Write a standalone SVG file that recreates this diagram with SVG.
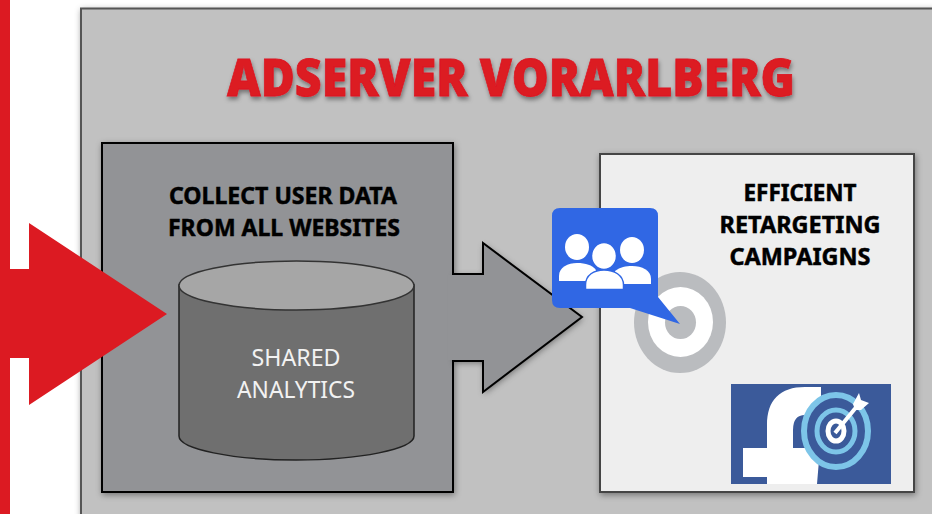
<svg xmlns="http://www.w3.org/2000/svg" width="932" height="514" viewBox="0 0 932 514">
<defs>
<filter id="sh" x="-10%" y="-10%" width="120%" height="120%"><feDropShadow dx="1" dy="2" stdDeviation="3" flood-color="#000" flood-opacity=".4"/></filter>
<filter id="ts" x="-5%" y="-20%" width="110%" height="140%"><feDropShadow dx="1" dy="3" stdDeviation="2" flood-color="#000" flood-opacity=".4"/></filter>
</defs>
<style>
.h{font-family:"Noto Sans","Open Sans","Liberation Sans",sans-serif;font-weight:700;fill:#000;stroke:#000;stroke-width:.5px;text-anchor:middle;font-size:24px}
.c{font-family:"Noto Sans","Open Sans","Liberation Sans",sans-serif;fill:#f2f2f2;text-anchor:middle;font-size:24px}
.wh{fill:#fff}
.bl{fill:#fff;stroke:#3067e4;stroke-width:1.500px}
</style>
<rect width="932" height="514" fill="#fff"/>
<rect x="0" y="0" width="10" height="514" fill="#dc1a22"/>
<g id="outer"><rect x="81" y="8.500" width="860" height="520" fill="#c1c1c1" stroke="#555" stroke-width="2" filter="url(#sh)"/>
<text x="511" y="96" text-anchor="middle" font-family="'Noto Sans','Open Sans','Liberation Sans',sans-serif" font-weight="900" font-size="52" fill="#dc1a22" stroke="#dc1a22" stroke-width=".8" filter="url(#ts)" textLength="568" lengthAdjust="spacingAndGlyphs">ADSERVER VORARLBERG</text></g>
<g id="collect">
<rect x="102" y="143" width="351" height="349" fill="#929396" stroke="#000" stroke-width="2" filter="url(#sh)"/>
<text class="h" x="283" y="204" textLength="228" lengthAdjust="spacingAndGlyphs">COLLECT USER DATA</text>
<text class="h" x="284" y="236" textLength="232" lengthAdjust="spacingAndGlyphs">FROM ALL WEBSITES</text>
</g>
<g id="connectors">
<path d="M453 274H483V243L582 317L483 392V361H453Z" fill="#929396" filter="url(#sh)"/>
<rect x="448" y="275" width="8" height="85" fill="#929396"/>
<path d="M453 274H483V243L582 317L483 392V361H453" fill="none" stroke="#000" stroke-width="2"/>
<path d="M0 269H29V223L167 314L29 405V358H0Z" fill="#dc1a22"/>
</g>
<g id="database">
<path d="M179 285V436C179 449 232 460 296 460S414 449 414 436V285Z" fill="#6f6f6f" stroke="#222" stroke-width="1.500"/>
<ellipse cx="296.500" cy="285.500" rx="117.500" ry="24.500" fill="#a6a6a6" stroke="#333" stroke-width="1.500"/>
<text class="c" x="296" y="366" textLength="89" lengthAdjust="spacingAndGlyphs">SHARED</text>
<text class="c" x="296" y="398" textLength="118" lengthAdjust="spacingAndGlyphs">ANALYTICS</text>
</g>
<g id="retargeting">
<rect x="600" y="154" width="314" height="338" fill="#eee" stroke="#444" stroke-width="2" filter="url(#sh)"/>
<text class="h" x="800" y="201" textLength="113" lengthAdjust="spacingAndGlyphs">EFFICIENT</text>
<text class="h" x="800" y="233" textLength="161" lengthAdjust="spacingAndGlyphs">RETARGETING</text>
<text class="h" x="800" y="265" textLength="141" lengthAdjust="spacingAndGlyphs">CAMPAIGNS</text>
</g>
<g id="target-icon">
<ellipse cx="680" cy="322.500" rx="46" ry="50.500" fill="#babcbf"/>
<ellipse cx="680.500" cy="322" rx="32.500" ry="35" fill="#fff"/>
<ellipse cx="680.500" cy="322.500" rx="15.500" ry="16.500" fill="#babcbf"/>
<path d="M560 208H650Q658 208 658 216V297L680 324L630 308H560Q552 308 552 300V216Q552 208 560 208Z" fill="#3067e4"/>
<ellipse cx="577" cy="247" rx="12" ry="13" class="wh"/>
<ellipse cx="632" cy="250" rx="12" ry="13" class="wh"/>
<path d="M559 281V276C559 267 568 263 577 263C586 263 592 265 596 270L596 281Z" class="wh"/>
<path d="M651 284V279C651 270 642 266 632 266C626 266 620 267 615 271L615 284Z" class="wh"/>
<ellipse cx="604" cy="256" rx="12.500" ry="13.500" class="bl"/>
<path d="M585.500 289.500V285C585.500 275 594 270 604 270C614 270 623.500 275 623.500 285V289.500Z" class="bl"/>
</g>
<g id="facebook-icon">
<rect x="731" y="384" width="160" height="100" fill="#3b5a9a"/>
<path d="M767 484V477H743V448H767V425C767 400 780 387 805 387H821V415H805Q793 415 793 430V448H820L817 484Z" fill="#fff"/>
<ellipse cx="836" cy="431" rx="32" ry="36" fill="#3b5a9a" stroke="#7dc5e8" stroke-width="6"/>
<ellipse cx="836" cy="431" rx="19" ry="21" fill="none" stroke="#7dc5e8" stroke-width="5"/>
<ellipse cx="836" cy="431" rx="8" ry="10" fill="none" stroke="#fff" stroke-width="5"/>
<path d="M835 433L858 405" stroke="#fff" stroke-width="4"/>
<path d="M853 404L859 393L861 400L869 403L861 410L855 410Z" fill="#fff"/>
</g>
</svg>
